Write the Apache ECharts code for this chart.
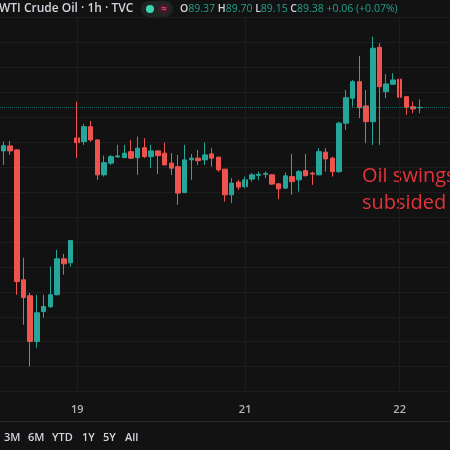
<!DOCTYPE html>
<html>
<head>
<meta charset="utf-8">
<script src="https://cdn.jsdelivr.net/npm/echarts@6/dist/echarts.min.js"></script>
<style>
  html, body { margin: 0; padding: 0; background: #121212; }
  #chart { width: 450px; height: 450px; }
</style>
</head>
<body>
<div id="chart"></div>
<script>
// hourly WTI candles (left edge is cut)
const opens  = [87.64, 87.84, 87.68, 82.48, 81.84, 80.01, 81.21, 81.40, 81.88, 83.32, 83.16,
  88.16, 88.01, 88.61, 88.08, 86.68, 87.15, 87.40, 87.37, 87.61, 87.37, 87.77, 87.41, 87.64, 87.55,
  87.15, 87.01, 85.97, 87.28, 87.35, 87.28, 87.52, 87.39, 86.91, 85.88, 86.39,
  86.21, 86.51, 86.66, 86.70, 86.68, 86.32, 86.15, 86.61, 86.48, 86.85, 86.75, 86.68, 87.59, 87.35,
  86.81, 88.75, 89.75, 90.41, 89.44, 88.81, 91.79, 90.01, 90.31, 90.51, 89.81, 89.41, 89.37]
const closes = [87.85, 87.64, 82.41, 81.77, 80.01, 81.16, 81.41, 81.88, 83.32, 83.12, 84.05,
  87.97, 88.61, 88.08, 86.68, 87.17, 87.41, 87.44, 87.55, 87.35, 87.75, 87.41, 87.64, 87.45, 87.08,
  86.95, 85.95, 87.28, 87.35, 87.25, 87.48, 87.35, 86.88, 85.88, 86.35, 86.19,
  86.48, 86.68, 86.70, 86.74, 86.31, 86.12, 86.64, 86.41, 86.81, 86.65, 86.71, 87.61, 87.32, 86.81,
  88.75, 89.77, 90.41, 89.37, 88.81, 91.75, 90.21, 90.32, 90.48, 89.79, 89.39, 89.32, 89.38]
const lows   = [87.08, 87.48, 81.88, 80.68, 79.01, 79.76, 80.96, 81.36, 81.86, 82.68, 83.01,
  87.36, 87.88, 88.01, 86.48, 86.61, 87.08, 87.37, 87.35, 87.32, 86.68, 87.35, 86.95, 86.71, 87.06,
  86.68, 85.48, 85.96, 86.48, 87.08, 87.08, 87.01, 86.80, 85.61, 85.55, 86.08,
  86.15, 86.41, 86.48, 86.55, 86.28, 85.71, 86.11, 85.88, 86.01, 86.61, 86.28, 86.67, 86.81, 86.61,
  86.76, 88.48, 89.41, 88.95, 87.95, 87.88, 87.88, 89.75, 90.28, 88.81, 89.08, 89.15, 89.15]
const highs  = [88.01, 88.04, 87.70, 83.36, 81.96, 81.88, 81.88, 83.01, 83.68, 83.52, 84.07,
  89.61, 88.72, 88.84, 88.10, 87.45, 87.48, 87.88, 87.88, 88.08, 88.21, 88.15, 87.88, 87.66, 87.97,
  87.55, 87.48, 87.88, 87.52, 87.68, 87.97, 87.75, 87.40, 86.92, 86.55, 86.48,
  86.61, 86.75, 86.81, 86.81, 86.70, 86.35, 86.77, 87.52, 86.88, 87.52, 86.81, 87.75, 87.75, 87.41,
  88.81, 90.08, 90.48, 91.44, 90.08, 92.21, 91.95, 90.71, 90.75, 90.52, 89.82, 89.61, 89.70]

// day labels on the time axis and the bar they sit on
const dayIdx = [11, 36, 59]
const dayNames = ['19', '21', '22']
const slotCount = 67 // bars plus the empty space on the right
const rangeButtons = ['3M', '6M', 'YTD', '1Y', '5Y', 'All']
const rangeX = [4, 28, 52, 82, 103, 125]
const note = ['Oil swings', 'subsided']

const UP = '#26a69a'
const DOWN = '#ef5350'
const FONT = '"Open Sans", "Noto Sans", sans-serif'

const slots = Array.from({ length: slotCount }, (_, i) => 'h' + i)
const candles = opens.map((o, i) => [o, closes[i], lows[i], highs[i]])

const n = opens.length
const last = { o: opens[n - 1], h: highs[n - 1], l: lows[n - 1], c: closes[n - 1] }
const chg = last.c - closes[n - 2]
const chgPct = chg / closes[n - 2] * 100
const sign = v => (v >= 0 ? '+' : '') + v.toFixed(2)

const chart = echarts.init(document.getElementById('chart'))
chart.setOption({
  backgroundColor: '#121212',
  animation: false,
  grid: { left: -1.4, right: -1.4, top: 17, bottom: 58.3 },
  xAxis: {
    type: 'category',
    data: slots,
    boundaryGap: true,
    axisLine: { show: false },
    axisTick: { show: false },
    splitLine: { show: false },
    axisLabel: {
      interval: i => dayIdx.includes(i),
      formatter: (v, i) => dayNames[dayIdx.indexOf(i)] || '',
      color: '#b2b5be',
      fontSize: 11,
      fontWeight: 600,
      fontFamily: FONT,
      margin: 13
    }
  },
  yAxis: {
    type: 'value',
    min: 78,
    max: 93,
    interval: 1,
    axisLabel: { show: false },
    axisLine: { show: false },
    axisTick: { show: false },
    splitLine: { lineStyle: { color: '#1d1d1d', width: 1 } }
  },
  series: [{
    type: 'candlestick',
    data: candles,
    barWidth: 5,
    itemStyle: {
      color: UP,
      color0: DOWN,
      borderColor: UP,
      borderColor0: DOWN,
      borderWidth: 1
    },
    markLine: {
      silent: true,
      symbol: 'none',
      label: { show: false },
      data: [
        ...dayIdx.map(i => ({ xAxis: slots[i], lineStyle: { color: '#1d1d1d', type: 'solid', width: 1 } })),
        { yAxis: last.c, lineStyle: { color: 'rgba(38,166,154,0.55)', type: 'dotted', width: 1 } }
      ]
    }
  }],
  graphic: [
    {
      type: 'text', x: -1, y: 9,
      style: { text: 'WTI Crude Oil · 1h · TVC', fill: '#d1d4dc', font: '600 12px ' + FONT, verticalAlign: 'middle' }
    },
    { type: 'rect', shape: { x: 141, y: 1, width: 32, height: 16, r: 8 }, style: { fill: '#1e2624' } },
    { type: 'circle', shape: { cx: 150, cy: 9, r: 4 }, style: { fill: '#3dd4b4' } },
    { type: 'circle', shape: { cx: 164, cy: 9, r: 6 }, style: { fill: '#3b1c25' } },
    {
      type: 'text', x: 164, y: 9,
      style: { text: '≈', fill: '#f23f6a', font: '700 10px ' + FONT, align: 'center', verticalAlign: 'middle' }
    },
    {
      type: 'text', x: 180, y: 9,
      style: {
        text: `{l|O}{v|${last.o.toFixed(2)}} {l|H}{v|${last.h.toFixed(2)}} {l|L}{v|${last.l.toFixed(2)}} {l|C}{v|${last.c.toFixed(2)}} {v|${sign(chg)} (${sign(chgPct)}%)}`,
        verticalAlign: 'middle',
        fontSize: 10.5,
        fontFamily: FONT,
        rich: {
          l: { fill: '#d1d4dc', fontSize: 10.5, fontWeight: 600, fontFamily: FONT },
          v: { fill: '#22a08c', fontSize: 10.5, fontFamily: FONT }
        }
      }
    },
    {
      type: 'text', x: 362, y: 176,
      style: { text: note[0], fill: '#e5323b', font: '20px ' + FONT, verticalAlign: 'middle' }
    },
    {
      type: 'text', x: 362, y: 203,
      style: { text: note[1], fill: '#e5323b', font: '20px ' + FONT, verticalAlign: 'middle' }
    },
    { type: 'line', shape: { x1: 0, y1: 421.5, x2: 450, y2: 421.5 }, style: { stroke: '#2a2a2a', lineWidth: 1 } },
    ...rangeButtons.map((t, i) => ({
      type: 'text', x: rangeX[i], y: 438,
      style: { text: t, fill: '#d1d4dc', font: '600 11px ' + FONT, verticalAlign: 'middle' }
    }))
  ]
})
</script>
</body>
</html>
